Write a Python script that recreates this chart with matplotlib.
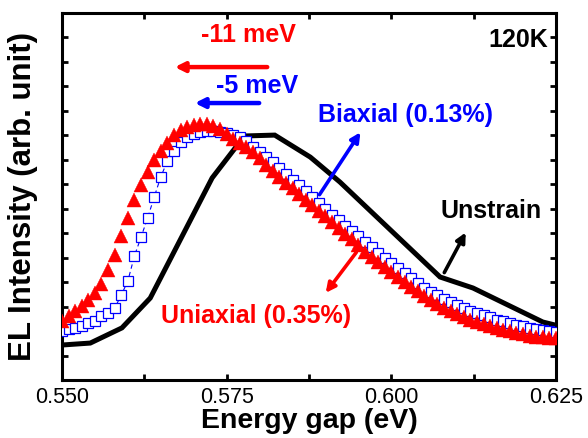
import matplotlib
matplotlib.use("Agg")
import matplotlib.pyplot as plt
import numpy as np

plt.rcParams['font.family'] = ['Liberation Sans', 'DejaVu Sans']

# ---- data ----
energy = [round(0.550 + 0.001 * k, 3) for k in range(76)]

uniaxial = [2.41, 2.62, 2.82, 3.02, 3.27, 3.56, 3.92, 4.50, 5.11, 5.88,
            6.62, 7.36, 7.97, 8.50, 8.99, 9.36, 9.69, 10.01, 10.22, 10.34,
            10.42, 10.46, 10.46, 10.38, 10.26, 10.05, 9.85, 9.69, 9.52, 9.32,
            9.07, 8.79, 8.54, 8.30, 8.05, 7.85, 7.60, 7.36, 7.15, 6.91,
            6.70, 6.46, 6.21, 5.97, 5.76, 5.52, 5.23, 5.03, 4.82, 4.62,
            4.41, 4.21, 4.00, 3.80, 3.64, 3.43, 3.27, 3.11, 2.94, 2.82,
            2.70, 2.57, 2.45, 2.37, 2.29, 2.21, 2.13, 2.04, 2.00, 1.92,
            1.88, 1.80, 1.76, 1.76, 1.72, 1.72]

biaxial = [2.00, 2.08, 2.13, 2.21, 2.33, 2.41, 2.62, 2.74, 2.94, 3.47,
           4.05, 5.07, 5.84, 6.62, 7.48, 8.30, 8.95, 9.36, 9.73, 9.93,
           10.05, 10.13, 10.18, 10.18, 10.13, 10.09, 10.01, 9.93, 9.77, 9.52,
           9.32, 9.11, 8.91, 8.66, 8.42, 8.17, 7.97, 7.72, 7.48, 7.23,
           6.99, 6.74, 6.54, 6.29, 6.09, 5.88, 5.64, 5.44, 5.19, 4.99,
           4.78, 4.58, 4.37, 4.17, 3.96, 3.76, 3.60, 3.47, 3.31, 3.19,
           3.06, 2.94, 2.82, 2.74, 2.66, 2.57, 2.45, 2.41, 2.33, 2.25,
           2.21, 2.13, 2.08, 2.04, 2.00, 1.96]

unstrain_e = [0.5500, 0.5543, 0.5591, 0.5634, 0.5728, 0.5764, 0.5772, 0.5823,
              0.5877, 0.5922, 0.6074, 0.6124, 0.6230, 0.6248]
unstrain = [1.43, 1.51, 2.13, 3.35, 8.26, 9.52, 9.97, 10.01,
            9.11, 8.09, 4.21, 3.76, 2.37, 2.25]

x_ticks = [0.550, 0.575, 0.600, 0.625]
x_tick_labels = ["0.550", "0.575", "0.600", "0.625"]

# ---- figure ----
fig = plt.figure(figsize=(5.88, 4.38), dpi=100)
ax = fig.add_axes([0.1054, 0.1324, 0.8402, 0.8379])

ax.plot(unstrain_e, unstrain, color='black', lw=3.6, zorder=2, solid_joinstyle='miter')
ax.plot(energy, biaxial, color='blue', lw=0.8, ls=(0, (4, 3)), marker='s',
        ms=6.5, mfc='white', mec='blue', mew=0.9, zorder=3)
ax.plot(energy, uniaxial, color='red', lw=0, marker='^', ms=10,
        mfc='red', mec='red', mew=0.3, zorder=4)

ax.set_xlim(0.550, 0.625)
ax.set_ylim(0, 15)
ax.set_xticks(x_ticks)
ax.set_xticklabels(x_tick_labels)
ax.set_xticks([0.5625, 0.5875, 0.6125], minor=True)
ax.set_yticks(np.arange(0, 16))
ax.set_yticklabels([])

for sp in ax.spines.values():
    sp.set_linewidth(2.2)

ax.tick_params(axis='both', which='both', direction='in', top=True, right=True,
               width=2.0, length=4.5)
ax.tick_params(axis='x', which='major', labelsize=15.5, pad=5)

ax.set_xlabel("Energy gap (eV)", fontsize=20.5, fontweight='bold', labelpad=0)
ax.set_ylabel("EL Intensity (arb. unit)", fontsize=22.5, fontweight='bold', labelpad=14)

# ---- annotations ----
ax.text(0.62378, 13.9, "120K", ha='right', va='center', fontsize=18, fontweight='bold', color='black')
ax.text(0.57824, 14.1, "-11 meV", ha='center', va='center', fontsize=18, fontweight='bold', color='red')
ax.annotate("", xy=(0.56670, 12.79), xytext=(0.58158, 12.79),
            arrowprops=dict(arrowstyle='-|>', color='red', lw=3.2, mutation_scale=14))
ax.text(0.5796, 12.01, "-5 meV", ha='center', va='center', fontsize=18, fontweight='bold', color='blue')
ax.annotate("", xy=(0.56974, 11.32), xytext=(0.58036, 11.32),
            arrowprops=dict(arrowstyle='-|>', color='blue', lw=3.2, mutation_scale=14))

ax.text(0.60222, 10.83, "Biaxial (0.13%)", ha='center', va='center', fontsize=18, fontweight='bold', color='blue')
ax.annotate("", xy=(0.59554, 10.22), xytext=(0.58886, 7.48),
            arrowprops=dict(arrowstyle='-|>', color='blue', lw=2.6, mutation_scale=14))

ax.text(0.61513, 6.91, "Unstrain", ha='center', va='center', fontsize=18, fontweight='bold', color='black')
ax.annotate("", xy=(0.61149, 6.13), xytext=(0.60784, 4.29),
            arrowprops=dict(arrowstyle='-|>', color='black', lw=2.6, mutation_scale=14))

ax.text(0.57945, 2.62, "Uniaxial (0.35%)", ha='center', va='center', fontsize=18, fontweight='bold', color='red')
ax.annotate("", xy=(0.58978, 3.47), xytext=(0.59494, 5.31),
            arrowprops=dict(arrowstyle='-|>', color='red', lw=2.6, mutation_scale=14))

fig.savefig("out.png", dpi=100)
